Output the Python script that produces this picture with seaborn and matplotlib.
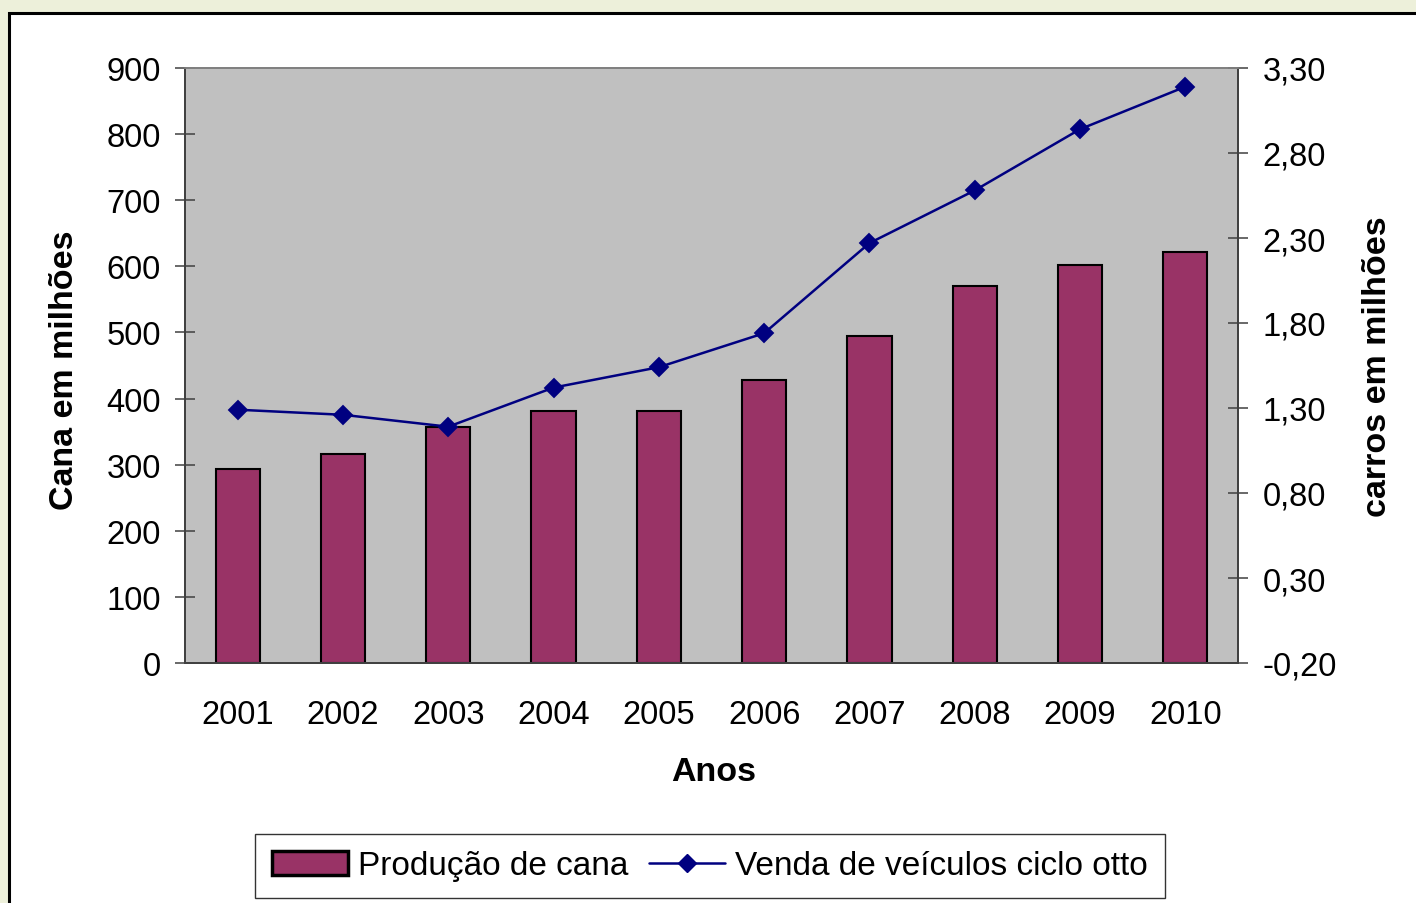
import numpy as np
import matplotlib
matplotlib.use("Agg")
import matplotlib.pyplot as plt
from matplotlib.patches import Rectangle
from matplotlib.lines import Line2D
from matplotlib.patches import Patch
import seaborn as sns

anos = ["2001", "2002", "2003", "2004", "2005", "2006", "2007", "2008", "2009", "2010"]
producao_cana = [293, 316, 357, 381, 381, 428, 495, 570, 602, 622]
venda_veiculos = [1.29, 1.26, 1.19, 1.42, 1.54, 1.74, 2.27, 2.58, 2.94, 3.19]
ticks_esq = [0, 100, 200, 300, 400, 500, 600, 700, 800, 900]
ticks_dir = [-0.20, 0.30, 0.80, 1.30, 1.80, 2.30, 2.80, 3.30]

sns.set_style("white")
plt.rcParams["font.family"] = ["Liberation Sans", "DejaVu Sans"]
plt.rcParams["text.color"] = "black"
plt.rcParams["xtick.color"] = "black"
plt.rcParams["ytick.color"] = "black"

W, H = 1416, 904
fig = plt.figure(figsize=(W / 100, H / 100), dpi=100)
fig.patch.set_facecolor("#EDF0DA")
fig.patches.append(Rectangle((9 / W, -0.1), 2, 1 - 14 / H + 0.1, transform=fig.transFigure,
                             facecolor="white", edgecolor="black", linewidth=2.2, zorder=-5))

ax = fig.add_axes([185 / W, 1 - 664 / H, (1238 - 185) / W, (664 - 69) / H])
ax.set_facecolor("#C0C0C0")
sns.barplot(x=anos, y=producao_cana, ax=ax, color="#993366", saturation=1,
            width=0.42, edgecolor="black", linewidth=1.5, zorder=2)
ax.set_ylim(0, 900)
ax.set_yticks(ticks_esq)
ax.set_xlim(-0.5, len(anos) - 0.5)
ax.set_xlabel("")
ax.set_ylabel("")

ax2 = ax.twinx()
sns.pointplot(x=anos, y=venda_veiculos, ax=ax2, color="#000080", markers="D",
              markersize=9.5, linewidth=1.8, errorbar=None)
ax2.set_ylim(-0.20, 3.30)
ax2.set_yticks(ticks_dir)
ax2.set_yticklabels([f"{v:.2f}".replace(".", ",") for v in ticks_dir])
ax2.set_xlim(-0.5, len(anos) - 0.5)
ax2.set_ylabel("")

for a in (ax, ax2):
    for s in ["left", "right", "bottom"]:
        a.spines[s].set_color("#404040")
        a.spines[s].set_linewidth(1.3)
    a.spines["top"].set_color("#808080")
    a.spines["top"].set_linewidth(1.3)

ax.set_xticks(np.arange(len(anos)))
ax.set_xticklabels(anos)
ax.set_xticks(np.arange(len(anos) + 1) - 0.5, minor=True)
ax.tick_params(axis="x", which="major", length=0, pad=26, labelsize=23.5)
ax.tick_params(axis="x", which="minor", direction="inout", length=15, width=1.1, color="#202020")
ax.tick_params(axis="y", left=True, direction="inout", length=15, width=1.1, color="#404040",
               pad=10, labelsize=23.5)
ax2.tick_params(axis="y", right=True, direction="inout", length=15, width=1.1, color="#404040",
                pad=10, labelsize=23.5)

fig.text(65 / W, 1 - 370 / H, "Cana em milhões", rotation=90, ha="center", va="center",
         fontsize=24.5, fontweight="bold")
fig.text(1377 / W, 1 - 367 / H, "carros em milhões", rotation=90, ha="center", va="center",
         fontsize=24.5, fontweight="bold")
fig.text(714 / W, 1 - 773 / H, "Anos", ha="center", va="center", fontsize=24.5, fontweight="bold")

handles = [Patch(facecolor="#993366", edgecolor="black", linewidth=2.5),
           Line2D([0], [0], color="#000080", marker="D", markersize=9.5, linewidth=1.8)]
leg = fig.legend(handles, ["Produção de cana", "Venda de veículos ciclo otto"],
                 loc="center", bbox_to_anchor=(710 / W, 1 - 867 / H), ncol=2,
                 fontsize=24, frameon=True, fancybox=False, handlelength=2.3,
                 handletextpad=0.3, columnspacing=0.6, borderpad=0.5)
leg.get_frame().set_edgecolor("black")
leg.get_frame().set_linewidth(1.0)

fig.savefig("out.png", dpi=100)
